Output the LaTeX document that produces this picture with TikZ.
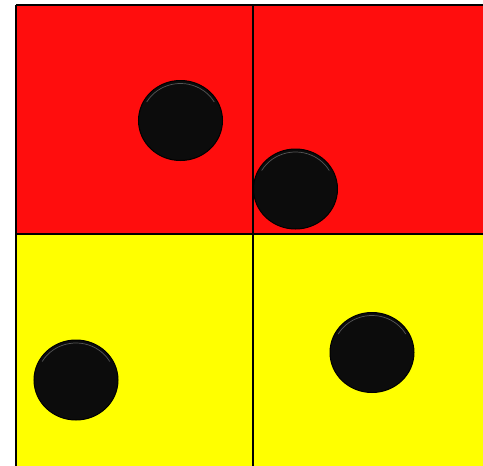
\documentclass[tikz,border=0pt]{standalone}
\usetikzlibrary{calc}
\definecolor{bred}{RGB}{255,13,13}
\definecolor{byel}{RGB}{255,255,0}
\definecolor{disc}{RGB}{12,12,12}
\definecolor{rim}{RGB}{85,85,85}
\tikzset{
  divider/.style={draw=black, line width=1.8pt}
}
\newcommand{\mydisk}[2]{%
  \fill[disc] (#1,#2) ellipse [x radius=42, y radius=40];
  \draw[rim, line width=0.7pt] ($(#1,#2)+(210:39 and 37)$) arc [start angle=210, end angle=330, x radius=39, y radius=37];
  \draw[black, line width=1pt] (#1,#2) ellipse [x radius=42, y radius=40];
}
\begin{document}
\begin{tikzpicture}[x=1pt,y=-1pt]
\useasboundingbox (0,0) rectangle (483,466);
\fill[white] (0,0) rectangle (483,466);
\fill[bred] (16,5) rectangle (483,234);
\fill[byel] (16,234) rectangle (483,466);
\draw[divider] (16,5) -- (483,5);
\draw[divider] (16,234) -- (483,234);
\draw[black, line width=1.5pt] (16,5) -- (16,466);
\draw[black, line width=1.2pt] (253,5) -- (253,466);
\mydisk{180.5}{120.5}
\mydisk{295.5}{189}
\mydisk{76}{380}
\mydisk{372}{352.5}
\end{tikzpicture}
\end{document}
